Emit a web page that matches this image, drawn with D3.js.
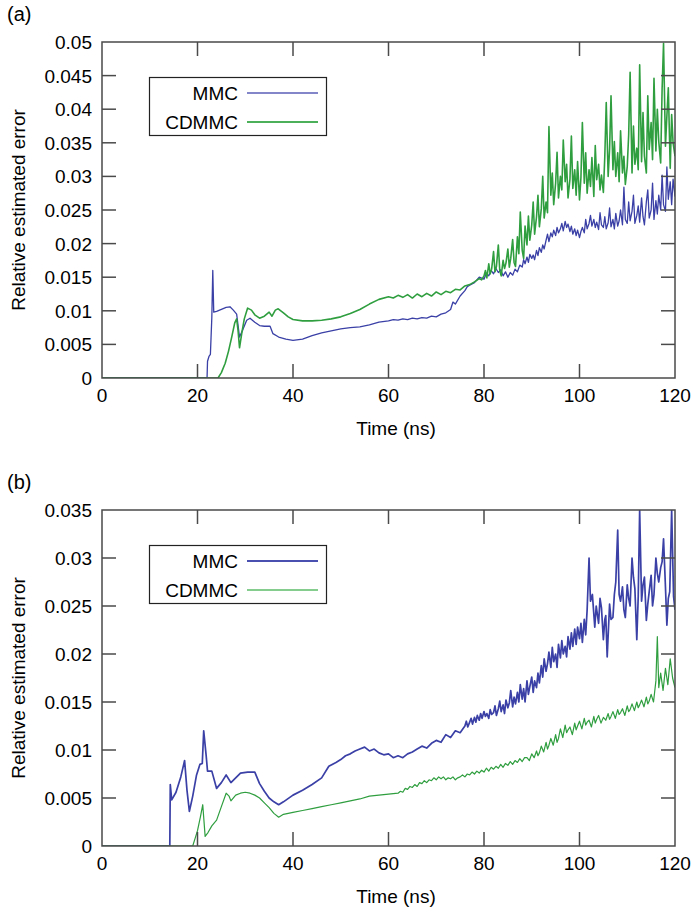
<!DOCTYPE html>
<html>
<head>
<meta charset="utf-8">
<script src="https://cdn.jsdelivr.net/npm/d3@7"></script>
<style>
  body { margin: 0; background: #fff; }
  svg { display: block; }
</style>
</head>
<body>
<div id="chart"></div>
<script>
// values: [time (ns), relative estimated error]
const aMMC = [[0,0],[22,0],[22.1,0.0025],[22.4,0.0032],[22.7,0.0035],[23.0,0.009],[23.2,0.016],[23.4,0.0098],[24,0.0099],[25,0.0102],[26,0.0105],[26.8,0.0106],[27.5,0.0101],[28.2,0.0095],[28.8,0.0061],[29.5,0.0072],[30.3,0.0086],[31,0.0089],[32,0.0083],[33,0.0078],[34,0.0077],[35.2,0.0077],[35.8,0.0066],[37,0.0061],[38.5,0.0058],[40,0.0056],[42,0.0058],[44,0.0063],[46,0.0067],[48,0.0070],[50,0.0073],[52,0.0075],[54,0.0076],[56,0.0079],[58,0.0083],[60,0.0085],[61,0.0087],[62,0.0086],[63,0.0088],[64,0.0087],[65,0.0089],[66,0.0088],[67,0.0090],[68,0.0089],[69,0.0092],[70,0.0091],[71,0.0095],[72,0.0097],[73,0.0102],[73.5,0.0113],[74,0.0110],[75,0.0122],[76,0.0130],[76.5,0.0136],[77,0.0138],[78,0.0142],[79,0.0150],[80,0.0147],[80.5,0.0156],[81,0.0152],[81.5,0.0160],[82,0.0155],[82.5,0.0163],[83,0.0157],[83.5,0.0161],[84,0.0152],[84.5,0.0158],[85,0.0150],[85.5,0.0157],[86,0.0153],[86.5,0.0162],[87,0.0158],[87.5,0.0168],
  [88,0.0165],[88.3,0.0176],[88.6,0.0170],[89,0.0180],[89.3,0.0172],[89.6,0.0184],[90,0.0178],[90.3,0.0183],[90.6,0.0176],[91,0.0190],[91.3,0.0182],[91.6,0.0194],[92,0.0187],[92.3,0.0198],[92.6,0.0192],[93,0.0205],[93.3,0.0214],[93.6,0.0203],[94,0.0216],[94.3,0.0210],[94.6,0.0220],[95,0.0212],[95.3,0.0224],[95.6,0.0216],[96,0.0222],[96.3,0.0230],[96.6,0.0219],[97,0.0233],[97.3,0.0224],[97.6,0.0229],[98,0.0218],[98.3,0.0226],[98.6,0.0214],[99,0.0222],[99.3,0.0212],[99.6,0.0220],[100,0.0209],[100.3,0.0218],[100.6,0.0224],[101,0.0216],[101.3,0.0236],[101.6,0.0222],[102,0.0230],[102.3,0.0242],[102.6,0.0226],[103,0.0236],[103.3,0.0224],[103.6,0.0232],[104,0.0221],[104.3,0.0246],[104.6,0.0228],[105,0.0224],[105.3,0.0240],[105.6,0.0222],[106,0.0231],[106.3,0.0253],[106.6,0.0225],[107,0.0236],[107.3,0.0222],[107.6,0.0245],[108,0.0226],[108.3,0.0234],[108.6,0.0250],[109,0.0228],[109.3,0.0284],[109.6,0.0236],[110,0.0230],[110.3,0.0262],[110.6,0.0234],[111,0.0248],[111.3,0.0272],[111.6,0.0230],[112,0.0242],[112.3,0.0256],[112.6,0.0232],[113,0.0268],[113.3,0.0240],[113.6,0.0228],[114,0.0262],[114.3,0.0280],[114.6,0.0238],[115,0.0250],[115.3,0.0290],[115.6,0.0236],[116,0.0264],[116.3,0.0244],[116.6,0.0272],[117,0.0250],[117.3,0.0302],[117.6,0.0258],[118,0.0248],[118.3,0.0314],[118.6,0.0266],[119,0.0292],[119.3,0.0258],[119.6,0.0296],[120,0.0270]];

const aCDMMC = [[0,0],[24.3,0],[25,0.0008],[25.8,0.0022],[26.5,0.0040],[27.2,0.0062],[27.8,0.0082],[28.2,0.0088],[28.5,0.0070],[28.8,0.0045],[29.3,0.0068],[29.8,0.0088],[30.5,0.0104],[31.3,0.0101],[32,0.0094],[33,0.0089],[34,0.0092],[35,0.0098],[35.6,0.0092],[36.3,0.0101],[36.9,0.0103],[38,0.0097],[39,0.0091],[40,0.0087],[42,0.0085],[44,0.0085],[46,0.0086],[48,0.0088],[50,0.0091],[52,0.0096],[54,0.0102],[56,0.0110],[58,0.0117],[60,0.0121],[61,0.0119],[62,0.0123],[63,0.0120],[64,0.0124],[65,0.0119],[66,0.0125],[67,0.0121],[68,0.0126],[69,0.0122],[70,0.0128],[71,0.0124],[72,0.0129],[73,0.0127],[74,0.0132],[75,0.0131],[76,0.0137],[77,0.0139],[78,0.0143],[79,0.0148],[79.5,0.0146],
  [80,0.0152],[80.3,0.0160],[80.6,0.0149],[81,0.0170],[81.3,0.0155],[81.6,0.0162],[82,0.0188],[82.3,0.0158],[82.6,0.0166],[83,0.0198],[83.3,0.0160],[83.6,0.0152],[84,0.0175],[84.3,0.0163],[84.6,0.0171],[85,0.0192],[85.3,0.0165],[85.6,0.0178],[86,0.0206],[86.3,0.0172],[86.6,0.0166],[87,0.0210],[87.3,0.0185],[87.6,0.0247],[88,0.0190],[88.3,0.0178],[88.6,0.0226],[89,0.0198],[89.3,0.0241],[89.6,0.0205],[90,0.0228],[90.3,0.0262],[90.6,0.0214],[91,0.0240],[91.3,0.0272],[91.6,0.0225],[92,0.0252],[92.3,0.0300],[92.6,0.0238],[93,0.0262],[93.3,0.0246],[93.6,0.0374],[94,0.0272],[94.3,0.0305],[94.6,0.0258],[95,0.0290],[95.3,0.0336],[95.6,0.0268],[96,0.0300],[96.3,0.0280],[96.6,0.0354],[97,0.0292],[97.3,0.0318],[97.6,0.0268],[98,0.0296],[98.3,0.0360],[98.6,0.0282],[99,0.0310],[99.3,0.0272],[99.6,0.0322],[100,0.0265],[100.3,0.0298],[100.6,0.0380],[101,0.0290],[101.3,0.0335],[101.6,0.0275],[102,0.0310],[102.3,0.0285],[102.6,0.0328],[103,0.0270],[103.3,0.0346],[103.6,0.0295],[104,0.0318],[104.3,0.0280],[104.6,0.0302],[105,0.0276],[105.3,0.0330],[105.6,0.0410],[106,0.0300],[106.3,0.0340],[106.6,0.0420],[107,0.0310],[107.3,0.0352],[107.6,0.0300],[108,0.0335],[108.3,0.0292],[108.6,0.0368],[109,0.0305],[109.3,0.0330],[109.6,0.0288],[110,0.0315],[110.3,0.0362],[110.6,0.0455],[111,0.0305],[111.3,0.0375],[111.6,0.0318],[112,0.0342],[112.3,0.0310],[112.6,0.0466],[113,0.0322],[113.3,0.0395],[113.6,0.0330],[114,0.0305],[114.3,0.0420],[114.6,0.0340],[115,0.0380],[115.3,0.0325],[115.6,0.0446],[116,0.0338],[116.3,0.0400],[116.6,0.0352],[117,0.0320],[117.3,0.0430],[117.6,0.0498],[118,0.0345],[118.3,0.0390],[118.6,0.0432],[119,0.0312],[119.3,0.0392],[119.6,0.0350],[120,0.0330]];

const bMMC = [[0,0],[14.2,0],[14.3,0.0064],[14.6,0.0048],[15.5,0.0056],[16.5,0.0072],[17.3,0.0089],[17.8,0.0058],[18.3,0.0036],[19,0.0052],[19.8,0.0074],[20.5,0.0085],[21,0.0086],[21.3,0.0120],[21.8,0.0095],[22.1,0.0078],[23,0.0078],[24,0.0060],[25,0.0066],[26,0.0074],[27,0.0066],[28,0.0071],[29,0.0076],[30.5,0.0077],[32,0.0077],[33,0.0065],[34,0.0057],[35,0.0050],[36,0.0046],[37,0.0043],[38,0.0046],[40,0.0053],[42,0.0058],[44,0.0064],[46,0.0071],[47.5,0.0083],[49,0.0087],[50,0.0090],[51,0.0094],[52,0.0096],[53,0.0099],[54,0.0101],[55,0.0103],[56,0.0099],[57,0.0101],[58,0.0097],[59,0.0095],[60,0.0096],[61,0.0092],[62,0.0094],[63,0.0092],[64,0.0096],[65,0.0098],[66,0.0101],[67,0.0104],[68,0.0102],[69,0.0107],[70,0.0110],[71,0.0108],[72,0.0116],[73,0.0113],[74,0.0120],[75,0.0118],
  [76,0.0125],[76.3,0.0130],[76.6,0.0124],[77,0.0129],[77.3,0.0133],[77.6,0.0127],[78,0.0134],[78.3,0.0129],[78.6,0.0136],[79,0.0131],[79.3,0.0138],[79.6,0.0133],[80,0.0140],[80.3,0.0135],[80.6,0.0138],[81,0.0133],[81.3,0.0142],[81.6,0.0137],[82,0.0139],[82.3,0.0146],[82.6,0.0136],[83,0.0143],[83.3,0.0151],[83.6,0.0140],[84,0.0147],[84.3,0.0138],[84.6,0.0152],[85,0.0144],[85.3,0.0149],[85.6,0.0162],[86,0.0145],[86.3,0.0155],[86.6,0.0148],[87,0.0160],[87.3,0.0150],[87.6,0.0168],[88,0.0153],[88.3,0.0164],[88.6,0.0150],[89,0.0172],[89.3,0.0158],[89.6,0.0166],[90,0.0176],[90.3,0.0160],[90.6,0.0172],[91,0.0165],[91.3,0.0180],[91.6,0.0170],[92,0.0188],[92.3,0.0176],[92.6,0.0195],[93,0.0182],[93.3,0.0190],[93.6,0.0202],[94,0.0186],[94.3,0.0207],[94.6,0.0192],[95,0.0200],[95.3,0.0186],[95.6,0.0210],[96,0.0196],[96.3,0.0214],[96.6,0.0200],[97,0.0208],[97.3,0.0197],[97.6,0.0218],[98,0.0205],[98.3,0.0222],[98.6,0.0208],[99,0.0226],[99.3,0.0210],[99.6,0.0228],[100,0.0216],[100.3,0.0232],[100.6,0.0212],[101,0.0236],[101.3,0.0220],[101.6,0.0246],
  [102,0.0300],[102.3,0.0255],[102.7,0.0262],[103.2,0.0228],[103.5,0.0250],[104,0.0232],[104.3,0.0258],[104.6,0.0248],[105,0.0215],[105.3,0.0236],[105.5,0.0240],[105.8,0.0197],[106.3,0.0252],[106.6,0.0236],[107,0.0238],[107.3,0.0262],[107.6,0.0275],[108,0.0329],[108.3,0.0262],[108.6,0.0255],[109,0.0270],[109.3,0.0246],[109.6,0.0238],[110,0.0272],[110.3,0.0258],[110.6,0.0250],[111,0.0300],[111.3,0.0280],[111.6,0.0268],[112,0.0215],[112.3,0.0260],[112.6,0.0350],[113,0.0255],[113.3,0.0272],[113.6,0.0280],[114,0.0235],[114.3,0.0252],[114.6,0.0265],[115,0.0282],[115.3,0.0250],[115.6,0.0262],[116,0.0300],[116.3,0.0284],[116.6,0.0275],[117,0.0290],[117.3,0.0296],[117.6,0.0320],[118,0.0270],[118.3,0.0230],[118.6,0.0258],[118.9,0.0265],[119.3,0.0350],[119.7,0.0260],[120,0.0246]];

const bCDMMC = [[0,0],[19,0],[19.5,0.0008],[20,0.0016],[20.6,0.0030],[21.1,0.0043],[21.6,0.0010],[22.2,0.0014],[23,0.0021],[24,0.0027],[25,0.0041],[26,0.0055],[26.6,0.0052],[27,0.0047],[28,0.0053],[29,0.0055],[30,0.0056],[31,0.0055],[32,0.0053],[33,0.0050],[34,0.0045],[35,0.0040],[36,0.0034],[37,0.0030],[38,0.0033],[40,0.0035],[42,0.0037],[44,0.0039],[46,0.0041],[48,0.0043],[50,0.0045],[52,0.0047],[54,0.0049],[56,0.0052],[58,0.0053],[60,0.0054],
  [62,0.0055],[62.5,0.0057],[63,0.0056],[63.5,0.0060],[64,0.0059],[64.5,0.0062],[65,0.0061],[65.5,0.0064],[66,0.0062],[66.5,0.0066],[67,0.0065],[67.5,0.0068],[68,0.0066],[68.5,0.0069],[69,0.0068],[69.5,0.0071],[70,0.0069],[70.5,0.0072],[71,0.0070],[71.5,0.0072],[72,0.0069],[72.5,0.0071],[73,0.0070],[73.5,0.0072],[74,0.0069],[74.5,0.0071],[75,0.0072],[75.5,0.0074],[76,0.0072],[76.5,0.0075],[77,0.0074],[77.5,0.0077],[78,0.0075],[78.5,0.0078],[79,0.0076],[79.5,0.0079],[80,0.0077],[80.5,0.0081],[81,0.0078],[81.5,0.0082],[82,0.0080],[82.5,0.0083],[83,0.0081],[83.5,0.0085],[84,0.0082],[84.5,0.0086],[85,0.0084],[85.5,0.0088],[86,0.0085],[86.5,0.0089],[87,0.0087],[87.5,0.0091],[88,0.0088],[88.5,0.0092],
  [89,0.0092],[89.5,0.0089],[90,0.0096],[90.5,0.0092],[91,0.0099],[91.3,0.0094],[91.6,0.0097],[92,0.0104],[92.5,0.0098],[93,0.0108],[93.3,0.0101],[93.6,0.0105],[94,0.0112],[94.5,0.0105],[95,0.0116],[95.3,0.0108],[95.6,0.0112],[96,0.0122],[96.5,0.0113],[97,0.0126],[97.3,0.0118],[97.6,0.0121],[98,0.0124],[98.5,0.0116],[99,0.0128],[99.3,0.0121],[99.6,0.0125],[100,0.0130],[100.5,0.0122],[101,0.0133],[101.3,0.0126],[101.6,0.0129],[102,0.0131],[102.5,0.0124],[103,0.0135],[103.3,0.0128],[103.6,0.0132],[104,0.0136],[104.5,0.0128],[105,0.0134],[105.5,0.0131],[106,0.0138],[106.3,0.0132],[106.6,0.0135],[107,0.0140],[107.5,0.0133],[108,0.0142],[108.3,0.0137],[108.6,0.0139],[109,0.0143],[109.5,0.0136],[110,0.0146],[110.3,0.0140],[110.6,0.0142],[111,0.0148],[111.5,0.0141],[112,0.0150],[112.3,0.0144],[112.6,0.0147],[113,0.0152],[113.5,0.0145],[114,0.0155],[114.3,0.0148],[114.6,0.0151],[115,0.0158],[115.5,0.0150],[116,0.0172],[116.3,0.0218],[116.6,0.0165],[117,0.0180],[117.5,0.0162],[118,0.0185],[118.5,0.0168],[119,0.0195],[119.5,0.0175],[120,0.0165]];

const xTicks = [0, 20, 40, 60, 80, 100, 120];
const aYTicks = [0, 0.005, 0.01, 0.015, 0.02, 0.025, 0.03, 0.035, 0.04, 0.045, 0.05];
const bYTicks = [0, 0.005, 0.01, 0.015, 0.02, 0.025, 0.03, 0.035];
const seriesNames = ["MMC", "CDMMC"];

const BLUE = "#3a40a6", GREEN = "#2f9e3f", AXIS = "#4a4a4a";
const FONT = "'Liberation Sans', Arial, sans-serif";

const width = 693, height = 913;
const svg = d3.select("#chart").append("svg")
    .attr("width", width)
    .attr("height", height)
    .style("font-family", FONT);

function panel(opts) {
    const left = 102, right = 675, top = opts.top, bottom = opts.top + 336;
    const x = d3.scaleLinear().domain([0, 120]).range([left, right]);
    const y = d3.scaleLinear().domain([0, opts.yMax]).range([bottom, top]);
    const g = svg.append("g");
    const tick = 14;

    // clip so spikes don't cross the frame
    const clipId = "clip-" + opts.tag;
    g.append("clipPath").attr("id", clipId)
        .append("rect").attr("x", left).attr("y", top).attr("width", right - left).attr("height", bottom - top);

    const line = d3.line().x(d => x(d[0])).y(d => y(d[1]));
    const lines = g.append("g").attr("clip-path", `url(#${clipId})`).attr("fill", "none")
        .attr("stroke-linejoin", "round");
    opts.series.forEach(s => {
        lines.append("path").datum(s.data)
            .attr("stroke", s.color)
            .attr("stroke-width", s.w)
            .attr("d", line);
    });

    // inner ticks on all four sides
    const ticks = g.append("g").attr("stroke", AXIS).attr("stroke-width", 1.5);
    xTicks.slice(1, -1).forEach(t => {
        ticks.append("line").attr("x1", x(t)).attr("x2", x(t)).attr("y1", bottom).attr("y2", bottom - tick);
        ticks.append("line").attr("x1", x(t)).attr("x2", x(t)).attr("y1", top).attr("y2", top + tick);
    });
    opts.yTicks.slice(1, -1).forEach(t => {
        ticks.append("line").attr("x1", left).attr("x2", left + tick).attr("y1", y(t)).attr("y2", y(t));
        ticks.append("line").attr("x1", right).attr("x2", right - tick).attr("y1", y(t)).attr("y2", y(t));
    });

    g.append("rect")
        .attr("x", left).attr("y", top)
        .attr("width", right - left).attr("height", bottom - top)
        .attr("fill", "none").attr("stroke", AXIS).attr("stroke-width", 1.5);

    // tick labels
    g.append("g").selectAll("text").data(xTicks).join("text")
        .attr("x", d => x(d)).attr("y", bottom + 24)
        .attr("text-anchor", "middle")
        .attr("font-size", 19)
        .text(d => d);
    g.append("g").selectAll("text").data(opts.yTicks).join("text")
        .attr("x", left - 10).attr("y", d => y(d) + 7)
        .attr("text-anchor", "end")
        .attr("font-size", 19)
        .text(d => d === 0 ? "0" : String(+d.toFixed(3)));

    g.append("text")
        .attr("x", 396).attr("y", bottom + 57)
        .attr("text-anchor", "middle").attr("font-size", 19)
        .text("Time (ns)");
    g.append("text")
        .attr("transform", `translate(25,${(top + bottom) / 2}) rotate(-90)`)
        .attr("text-anchor", "middle").attr("font-size", 19)
        .text("Relative estimated error");
    g.append("text")
        .attr("x", 7).attr("y", top - 21)
        .attr("font-size", 20)
        .text(opts.label);

    // legend
    const lg = g.append("g");
    lg.append("rect")
        .attr("x", 149.5).attr("y", top + 35.5).attr("width", 177).attr("height", 58)
        .attr("fill", "#fff").attr("stroke", "#222").attr("stroke-width", 1.2);
    opts.series.forEach((s, i) => {
        const yy = top + 51 + i * 29;
        lg.append("text")
            .attr("x", 238).attr("y", yy + 7)
            .attr("text-anchor", "end").attr("font-size", 19)
            .text(seriesNames[i]);
        lg.append("line")
            .attr("x1", 247).attr("x2", 318).attr("y1", yy).attr("y2", yy)
            .attr("stroke", s.legendColor).attr("stroke-width", s.w + 0.3);
    });
}

panel({
    tag: "a", label: "(a)", top: 42, yMax: 0.05, yTicks: aYTicks,
    series: [
        {data: aMMC, color: BLUE, legendColor: "#5a5fb8", w: 1.3},
        {data: aCDMMC, color: GREEN, legendColor: "#4caf5a", w: 1.6}
    ]
});
panel({
    tag: "b", label: "(b)", top: 510, yMax: 0.035, yTicks: bYTicks,
    series: [
        {data: bMMC, color: BLUE, legendColor: "#4a50b0", w: 1.7},
        {data: bCDMMC, color: GREEN, legendColor: "#5cbb6a", w: 1.2}
    ]
});
</script>
</body>
</html>
